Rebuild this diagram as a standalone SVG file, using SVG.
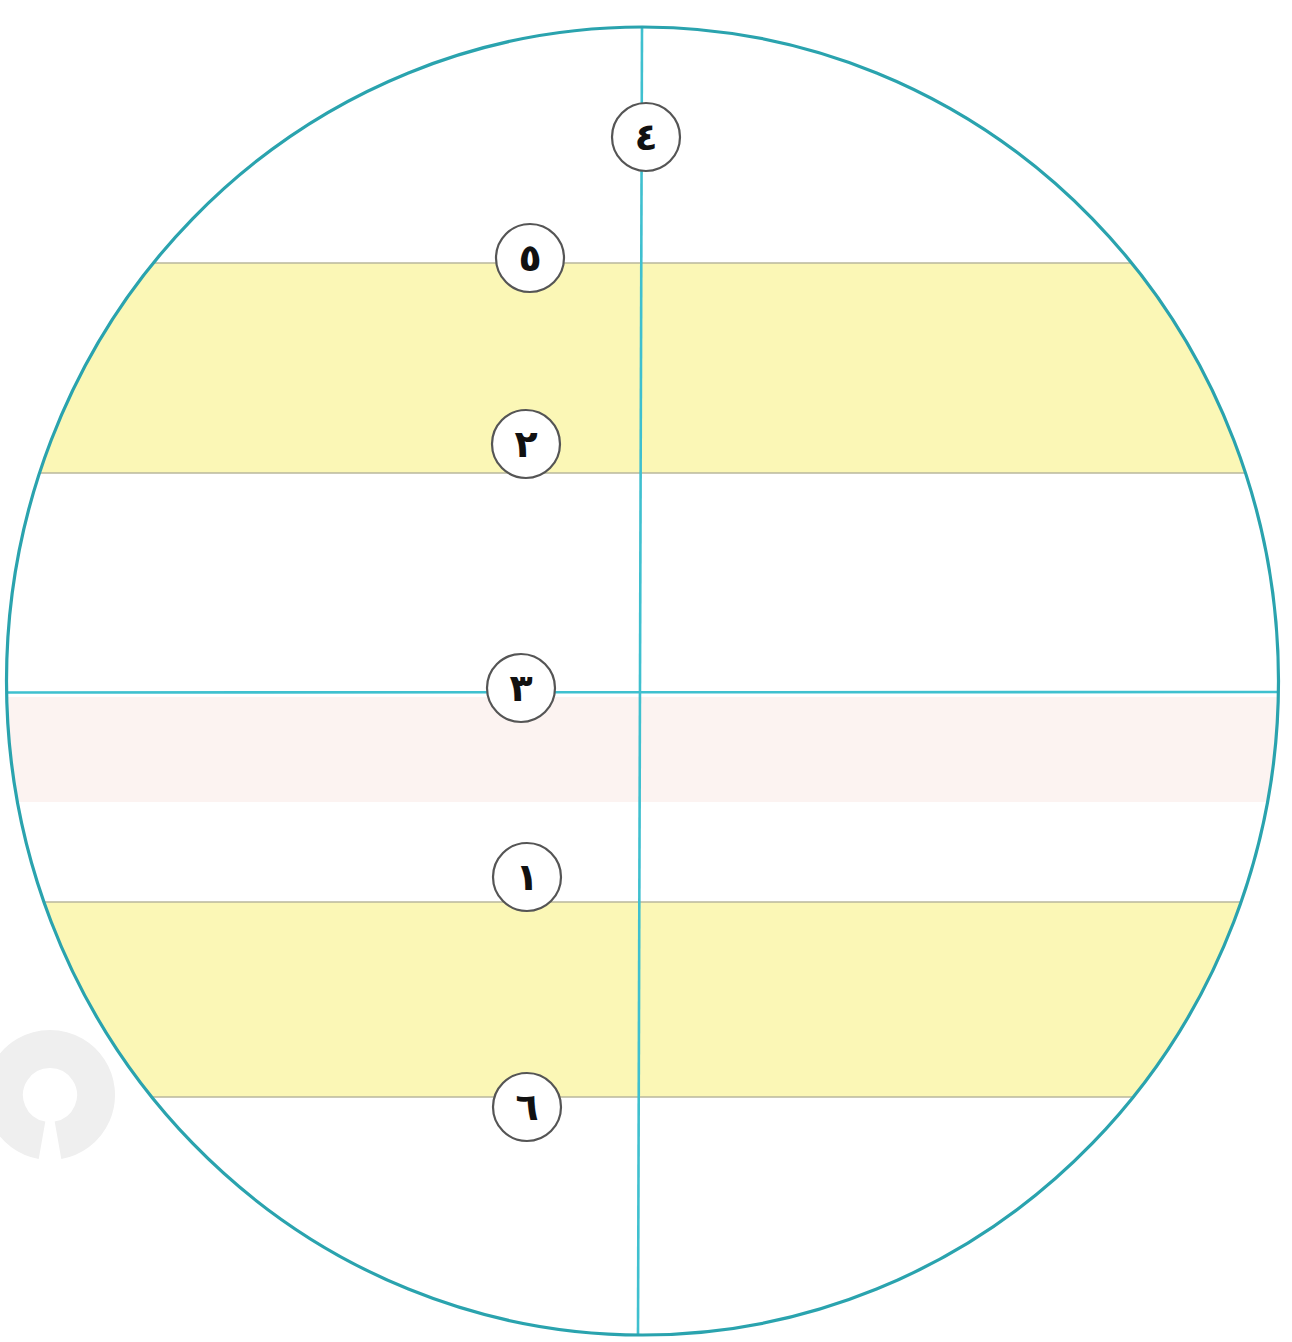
<svg xmlns="http://www.w3.org/2000/svg" width="1292" height="1342" viewBox="0 0 1292 1342">
<style>
.band{fill:#fbf7b6}
.pink{fill:#fcf3f1}
.edge{stroke:#b9b79c;stroke-width:1.6;fill:none}
.axis{stroke:#3fc0cf;stroke-width:2.6;fill:none}
.rim{stroke:#2aa3ae;stroke-width:3.2;fill:none}
.lab circle{fill:#ffffff;stroke:#555;stroke-width:2.2}
.lab text{font-family:"DejaVu Sans","Noto Sans",sans-serif;font-weight:bold;font-size:38px;fill:#111;text-anchor:middle;dominant-baseline:central}
</style>
<defs>
<clipPath id="disc"><ellipse cx="642.5" cy="681" rx="636" ry="654"/></clipPath>
</defs>
<rect width="1292" height="1342" fill="#ffffff"/>
<path id="watermark" d="M42,1140.3 A46,46 0 1,1 58,1140.3" stroke="#efefef" stroke-width="38" fill="none"/>
<g id="bands" clip-path="url(#disc)">
<rect class="band" x="0" y="263" width="1292" height="210"/>
<rect class="pink" x="0" y="697" width="1292" height="105"/>
<rect class="band" x="0" y="902" width="1292" height="195"/>
<line class="edge" x1="0" y1="263" x2="1292" y2="263"/>
<line class="edge" x1="0" y1="473" x2="1292" y2="473"/>
<line class="edge" x1="0" y1="902" x2="1292" y2="902"/>
<line class="edge" x1="0" y1="1097" x2="1292" y2="1097"/>
</g>
<g id="connectors">
<line class="axis" x1="642" y1="27" x2="638" y2="1335"/>
<line class="axis" x1="7" y1="692.5" x2="1278" y2="692"/>
<ellipse class="rim" cx="642.5" cy="681" rx="636" ry="654"/>
</g>
<g id="n4" class="lab"><circle cx="646" cy="137" r="34"/><text x="646" y="137">٤</text></g>
<g id="n5" class="lab"><circle cx="530" cy="258" r="34"/><text x="530" y="258">٥</text></g>
<g id="n2" class="lab"><circle cx="526" cy="444" r="34"/><text x="526" y="444">٢</text></g>
<g id="n3" class="lab"><circle cx="521" cy="688" r="34"/><text x="521" y="688">٣</text></g>
<g id="n1" class="lab"><circle cx="527" cy="877" r="34"/><text x="527" y="877">١</text></g>
<g id="n6" class="lab"><circle cx="527" cy="1107" r="34"/><text x="527" y="1107">٦</text></g>
</svg>
